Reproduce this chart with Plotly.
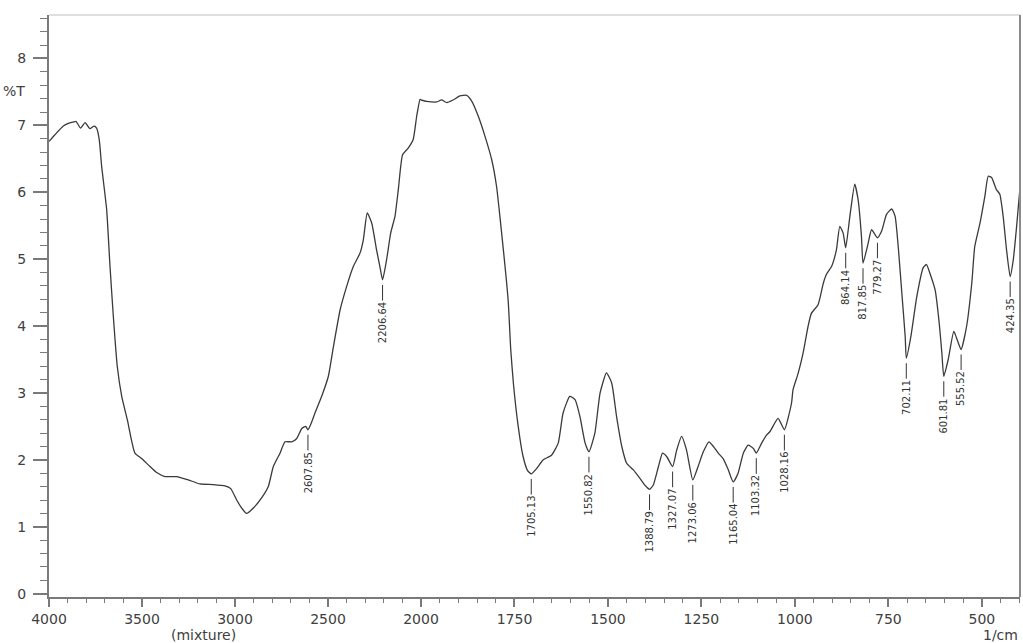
import plotly.graph_objects as go

# IR transmittance spectrum (%T vs wavenumber, 1/cm)
wn_high = [4000, 3968, 3923, 3896, 3869, 3855, 3830, 3806, 3780, 3758, 3744, 3730,
           3717, 3690, 3672, 3654, 3633, 3609, 3579, 3538, 3502, 3457, 3421, 3376,
           3314, 3251, 3188, 3117, 3054, 3023, 2991, 2964, 2938, 2901, 2857, 2821,
           2794, 2758, 2731, 2695, 2668, 2641, 2620, 2607.85, 2590, 2570, 2534, 2498,
           2471, 2435, 2400, 2364, 2328, 2310, 2289, 2265, 2239, 2221, 2206.64, 2185,
           2163, 2140, 2122, 2099, 2069, 2042, 2023, 2005, 2000]
t_high = [6.76, 6.86, 6.99, 7.03, 7.05, 7.06, 6.96, 7.04, 6.95, 6.99, 6.96, 6.79,
          6.39, 5.74, 4.89, 4.14, 3.40, 2.95, 2.60, 2.10, 2.02, 1.90, 1.81, 1.75,
          1.75, 1.70, 1.64, 1.63, 1.61, 1.57, 1.40, 1.28, 1.20, 1.28, 1.43, 1.60,
          1.90, 2.10, 2.27, 2.27, 2.32, 2.47, 2.50, 2.45, 2.55, 2.70, 2.95, 3.25,
          3.69, 4.24, 4.59, 4.89, 5.09, 5.29, 5.69, 5.54, 5.14, 4.89, 4.69, 4.99,
          5.39, 5.64, 6.04, 6.56, 6.66, 6.79, 7.14, 7.39, 7.38]

wn_low = [2000, 1985, 1958, 1945, 1931, 1914, 1896, 1878, 1864, 1847, 1829, 1811,
          1798, 1789, 1767, 1760, 1753, 1740, 1727, 1715, 1705.13, 1691, 1673, 1651,
          1633, 1620, 1602, 1588, 1575, 1561, 1550.82, 1535, 1521, 1504, 1490, 1477,
          1463, 1450, 1432, 1414, 1401, 1388.79, 1379, 1365, 1354, 1343, 1327.07, 1316,
          1303, 1290, 1273.06, 1259, 1245, 1230, 1218, 1205, 1192, 1178, 1165.04, 1152,
          1138, 1125, 1111, 1103.32, 1089, 1076, 1067, 1045, 1028.16, 1009, 1005, 991,
          978, 965, 956, 938, 924, 916, 902, 889, 880, 871, 864.14, 853,
          840, 831, 822, 817.85, 804, 795, 779.27, 768, 755, 741, 732, 723,
          714, 705, 702.11, 690, 674, 657, 648, 639, 625, 614, 607, 601.81,
          590, 575, 565, 555.52, 541, 527, 519, 505, 492, 483, 474, 461,
          452, 443, 434, 424.35, 416, 407, 398]
t_low = [7.38, 7.36, 7.35, 7.38, 7.34, 7.38, 7.44, 7.45, 7.36, 7.14, 6.84, 6.49,
         6.09, 5.64, 4.39, 3.65, 3.15, 2.50, 2.05, 1.84, 1.79, 1.87, 2.00, 2.07,
         2.25, 2.70, 2.95, 2.90, 2.65, 2.25, 2.12, 2.40, 3.00, 3.30, 3.15, 2.65,
         2.20, 1.95, 1.85, 1.72, 1.62, 1.56, 1.62, 1.90, 2.10, 2.05, 1.90, 2.15,
         2.35, 2.15, 1.70, 1.90, 2.12, 2.27, 2.20, 2.10, 2.02, 1.85, 1.67, 1.80,
         2.10, 2.22, 2.17, 2.10, 2.25, 2.37, 2.42, 2.62, 2.45, 2.85, 3.05, 3.30,
         3.60, 3.99, 4.19, 4.32, 4.64, 4.77, 4.89, 5.14, 5.49, 5.39, 5.17, 5.64,
         6.12, 5.89, 5.34, 4.94, 5.24, 5.44, 5.32, 5.42, 5.67, 5.75, 5.64, 5.14,
         4.49, 3.84, 3.52, 3.84, 4.44, 4.87, 4.92, 4.79, 4.54, 4.04, 3.60, 3.25,
         3.50, 3.92, 3.78, 3.65, 3.99, 4.64, 5.19, 5.54, 5.94, 6.24, 6.22, 6.04,
         5.97, 5.64, 5.14, 4.74, 4.99, 5.49, 6.07]

# Labelled absorption minima
peak_wn = [2607.85, 2206.64, 1705.13, 1550.82, 1388.79, 1327.07, 1273.06, 1165.04,
           1103.32, 1028.16, 864.14, 817.85, 779.27, 702.11, 601.81, 555.52, 424.35]
peak_t = [2.45, 4.69, 1.79, 2.12, 1.56, 1.90, 1.70, 1.67,
          2.10, 2.45, 5.17, 4.94, 5.32, 3.52, 3.25, 3.65, 4.74]

# Axis ticks
x_ticks_high = [4000, 3500, 3000, 2500]
x_ticks_low = [2000, 1750, 1500, 1250, 1000, 750, 500]
y_ticks = [0, 1, 2, 3, 4, 5, 6, 7, 8]

x_minor_high = [v for v in range(3900, 2000, -100) if v % 500 != 0]
x_minor_low = [v for v in range(1950, 399, -50) if v % 250 != 0]
y_minor = [round(i * 0.2, 1) for i in range(0, 44) if i % 5 != 0]

LINE = "#3a3a3a"
AXIS = "#7a7a7a"
TXT = "#404040"
SPLIT = 372 / 971  # 4000-2000 is drawn at half the density of 2000-400

fig = go.Figure()
fig.add_trace(go.Scatter(x=wn_high, y=t_high, mode="lines", xaxis="x", yaxis="y",
                         line=dict(color=LINE, width=1.3, shape="spline", smoothing=0.5),
                         showlegend=False))
fig.add_trace(go.Scatter(x=wn_low, y=t_low, mode="lines", xaxis="x2", yaxis="y",
                         line=dict(color=LINE, width=1.3, shape="spline", smoothing=0.5),
                         showlegend=False))


def label_half_len(s, size=10):
    w = sum(0.318 * size if c == "." else 0.636 * size for c in s)
    return w / 2 + 2


for w, t in zip(peak_wn, peak_t):
    s = f"{w:.2f}"
    fig.add_annotation(x=w, y=t, xref="x" if w > 2000 else "x2", yref="y",
                       text=s, textangle=-90, showarrow=True, arrowhead=0,
                       arrowwidth=1, arrowcolor="#333333", ax=0,
                       ay=5 + 15 + label_half_len(s), standoff=5,
                       font=dict(family="DejaVu Sans", size=10, color="#333333"))

tickfont = dict(family="DejaVu Sans", size=14, color=TXT)
common_x = dict(showgrid=False, zeroline=False, showline=True, linecolor=AXIS,
                linewidth=2, ticks="outside", ticklen=8, tickwidth=1.5,
                tickcolor=AXIS, tickfont=tickfont, anchor="y")

fig.update_layout(
    width=1023, height=643,
    margin=dict(l=49, r=3, t=15, b=46),
    paper_bgcolor="white", plot_bgcolor="white",
    xaxis=dict(domain=[0, SPLIT], range=[4000, 2000], tickmode="array",
               tickvals=x_ticks_high, ticktext=[str(v) for v in x_ticks_high],
               minor=dict(tickmode="array", tickvals=x_minor_high, ticks="outside",
                          ticklen=4, tickwidth=1.2, tickcolor=AXIS),
               **common_x),
    xaxis2=dict(domain=[SPLIT, 1], range=[2000, 398], tickmode="array",
                tickvals=x_ticks_low, ticktext=[str(v) for v in x_ticks_low],
                minor=dict(tickmode="array", tickvals=x_minor_low, ticks="outside",
                           ticklen=4, tickwidth=1.2, tickcolor=AXIS),
                **common_x),
    yaxis=dict(range=[-0.05, 8.65], anchor="x", showgrid=False, zeroline=False,
               showline=True, linecolor=AXIS, linewidth=2, ticks="outside",
               ticklen=14, tickwidth=1.5, tickcolor=AXIS, tickmode="array",
               tickvals=y_ticks, tickfont=tickfont, ticklabelstandoff=4,
               minor=dict(tickmode="array", tickvals=y_minor, ticks="outside",
                          ticklen=7, tickwidth=1.2, tickcolor=AXIS)),
    shapes=[
        dict(type="line", xref="paper", yref="paper", x0=0, x1=1, y0=1, y1=1,
             line=dict(color="#d4d4d4", width=1.5)),
        dict(type="line", xref="paper", yref="paper", x0=1, x1=1, y0=0, y1=1,
             line=dict(color="#8a8a8a", width=2)),
    ],
)

fig.add_annotation(text="%T", xref="paper", yref="paper", x=-0.0227, y=0.869,
                   xanchor="right", yanchor="middle", showarrow=False,
                   font=dict(family="DejaVu Sans", size=14, color=TXT))
fig.add_annotation(text="(mixture)", xref="paper", yref="paper", x=0.1596, y=-0.0653,
                   xanchor="center", yanchor="middle", showarrow=False,
                   font=dict(family="DejaVu Sans", size=14, color=TXT))
fig.add_annotation(text="1/cm", xref="paper", yref="paper", x=1.0, y=-0.0653,
                   xanchor="right", yanchor="middle", showarrow=False,
                   font=dict(family="DejaVu Sans", size=14, color=TXT))

fig.write_html("out.html")
